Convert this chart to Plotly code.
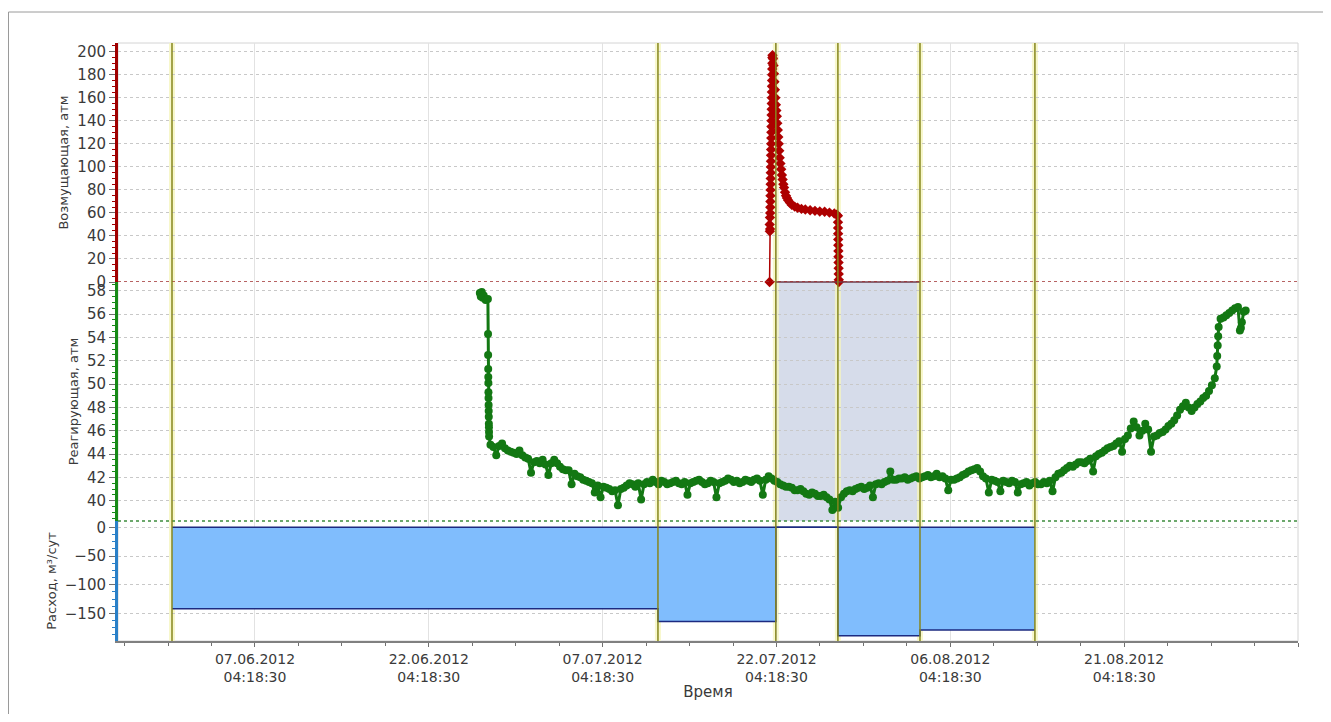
import pandas as pd
import plotly.graph_objects as go

# ---------------- data ----------------
# Возмущающая (disturbing well pressure), атм
red_time = [
    "2012-07-21 14:00", "2012-07-21 14:15", "2012-07-21 14:30", "2012-07-21 14:45",
    "2012-07-21 15:00", "2012-07-21 15:15",
    "2012-07-21 15:30", "2012-07-21 15:40", "2012-07-21 15:50", "2012-07-21 16:00",
    "2012-07-21 16:10", "2012-07-21 16:20", "2012-07-21 16:30", "2012-07-21 16:40",
    "2012-07-21 16:50", "2012-07-21 17:00", "2012-07-21 17:10", "2012-07-21 17:20",
    "2012-07-21 17:30", "2012-07-21 17:40", "2012-07-21 17:50", "2012-07-21 18:00",
    "2012-07-21 18:10", "2012-07-21 18:20", "2012-07-21 18:30", "2012-07-21 18:40",
    "2012-07-21 18:50", "2012-07-21 19:00", "2012-07-21 19:10", "2012-07-21 19:20",
    "2012-07-21 19:30", "2012-07-21 19:40", "2012-07-21 19:50", "2012-07-21 20:00",
    "2012-07-21 21:00", "2012-07-21 22:00", "2012-07-21 23:00", "2012-07-22 00:00",
    "2012-07-22 01:00", "2012-07-22 02:00", "2012-07-22 03:00", "2012-07-22 04:00",
    "2012-07-22 05:00", "2012-07-22 06:00", "2012-07-22 07:00", "2012-07-22 08:00",
    "2012-07-22 09:00", "2012-07-22 10:00", "2012-07-22 11:00", "2012-07-22 12:30",
    "2012-07-22 14:00", "2012-07-22 15:30", "2012-07-22 17:00", "2012-07-22 18:30",
    "2012-07-22 20:00", "2012-07-22 22:00", "2012-07-23 00:00", "2012-07-23 02:00",
    "2012-07-23 04:30", "2012-07-23 08:00", "2012-07-23 12:00", "2012-07-23 18:00",
    "2012-07-24 00:00", "2012-07-24 08:00", "2012-07-24 16:00", "2012-07-25 02:00",
    "2012-07-25 12:00", "2012-07-25 22:00", "2012-07-26 08:00", "2012-07-26 18:00",
    "2012-07-27 04:00", "2012-07-27 09:00", "2012-07-27 11:30",
    "2012-07-27 11:40", "2012-07-27 11:50", "2012-07-27 12:00", "2012-07-27 12:10",
    "2012-07-27 12:20", "2012-07-27 12:30", "2012-07-27 12:40", "2012-07-27 12:50",
    "2012-07-27 13:00", "2012-07-27 13:10", "2012-07-27 13:20", "2012-07-27 13:30",
]
red_val = [
    0, 50, 44, 56,
    46, 60,
    65, 70, 75, 80,
    85, 90, 95, 100,
    105, 110, 115, 120,
    125, 130, 135, 140,
    145, 150, 155, 160,
    165, 170, 175, 180,
    185, 190, 195, 197,
    194, 188, 181, 174,
    167, 160, 154, 149,
    144, 138, 132, 126,
    120, 114, 108, 103,
    98, 93, 89, 85,
    82, 78, 75, 73,
    71, 69, 67, 65.5,
    64.5, 63.5, 63, 62.3,
    61.8, 61.3, 61, 60.3,
    59.5, 58.5, 57.5,
    52, 47, 42, 37,
    32, 27, 22, 17,
    12, 7, 2, 0,
]

# Реагирующая (responding well pressure), атм
green_head_time = [
    "2012-06-26 14:00", "2012-06-26 16:00", "2012-06-26 18:00", "2012-06-26 20:00",
    "2012-06-26 22:00", "2012-06-27 02:00", "2012-06-27 06:40",
    "2012-06-27 07:00", "2012-06-27 07:10", "2012-06-27 07:20", "2012-06-27 07:30",
    "2012-06-27 07:40", "2012-06-27 07:50", "2012-06-27 08:00", "2012-06-27 08:10",
    "2012-06-27 08:20", "2012-06-27 08:30", "2012-06-27 08:40", "2012-06-27 08:50",
    "2012-06-27 09:00", "2012-06-27 09:10",
]
green_head_val = [
    57.8, 57.5, 57.9, 57.4,
    57.6, 57.2, 57.3,
    54.3, 52.5, 51.3, 50.6,
    50.1, 49.3, 48.8, 48.2,
    47.7, 47.2, 46.6, 46.3,
    45.9, 45.5,
]
# 12-hourly readings starting 27.06.2012 12:00
green_start = "2012-06-27 12:00"
green_val = [
    44.8, 43.9, 44.9, 44.3, 44.1, 44.3, 43.7, 42.4, 43.4, 43.5,
    42.2, 43.5, 42.9, 42.6, 41.4, 42.1, 41.8, 41.6, 40.7, 40.3,
    41.1, 40.8, 39.6, 41.1, 41.5, 41.2, 40.1, 41.6, 41.8, 41.4,
    41.6, 41.5, 41.7, 41.4, 40.5, 41.6, 41.8, 41.4, 41.7, 40.3,
    41.6, 41.9, 41.6, 41.5, 41.8, 41.6, 41.9, 40.5, 42.1, 41.7,
    41.4, 41.2, 41.1, 40.9, 40.8, 40.5, 40.6, 40.4, 40.3, 39.2,
    39.4, 40.6, 40.9, 41.0, 41.2, 41.1, 40.3, 41.5, 41.6, 42.5,
    41.8, 41.9, 41.8, 42.0, 41.9, 42.1, 42.0, 42.3, 42.1, 40.9,
    41.8, 42.0, 42.3, 42.6, 42.8, 42.1, 40.7, 41.7, 40.8, 41.6,
    41.7, 40.7, 41.5, 41.3, 41.6, 41.4, 41.5, 40.8, 42.3, 42.6,
    43.0, 43.1, 43.3, 43.4, 42.5, 44.0, 44.3, 44.6, 44.9, 44.2,
    45.6, 46.8, 45.6, 46.6, 44.2, 45.6, 45.9, 46.4, 46.9, 47.8,
    48.4, 47.7, 48.3, 48.8, 49.4, 50.5, 55.6, 55.9, 56.3, 56.6,
    56.2,
]
# readings 6 h after each of the 12-hourly readings above
green_mid_start = "2012-06-27 18:00"
green_mid_val = [
    44.6, 44.7, 44.5, 44.2, 44.0, 43.9, 43.6, 43.3, 43.2, 43.1,
    43.2, 43.2, 42.7, 42.6, 42.3, 42.0, 41.7, 41.5, 41.3, 41.2,
    41.0, 40.9, 41.0, 41.3, 41.4, 41.5, 41.4, 41.5, 41.6, 41.7,
    41.4, 41.6, 41.5, 41.6, 41.5, 41.7, 41.6, 41.5, 41.6, 41.5,
    41.7, 41.8, 41.7, 41.6, 41.7, 41.8, 41.7, 41.8, 41.9, 41.6,
    41.3, 41.2, 40.9, 41.0, 40.6, 40.7, 40.4, 40.5, 40.1, 39.9,
    40.3, 40.8, 40.8, 41.1, 41.0, 41.3, 41.4, 41.4, 41.7, 41.8,
    41.9, 42.0, 41.9, 42.1, 42.0, 42.2, 42.1, 42.0, 41.9, 41.8,
    41.9, 42.2, 42.5, 42.7, 42.5, 41.9, 41.8, 41.6, 41.7, 41.5,
    41.6, 41.4, 41.6, 41.5, 41.4, 41.6, 41.7, 42.0, 42.4, 42.8,
    42.9, 43.3, 43.2, 43.6, 43.8, 44.1, 44.5, 44.7, 45.1, 45.3,
    46.2, 46.3, 46.0, 46.1, 45.5, 45.8, 46.1, 46.6, 47.3, 48.1,
    48.0, 48.0, 48.5, 49.0, 49.9, 53.3, 55.7, 56.1, 56.5, 54.8,
]
green_extra_time = [
    "2012-08-29 04:00", "2012-08-29 05:00", "2012-08-29 07:00", "2012-08-29 08:00",
    "2012-08-31 04:00", "2012-08-31 08:00", "2012-08-31 16:00",
]
green_extra_val = [51.5, 52.4, 54.1, 54.9, 54.6, 55.3, 56.3]

# Расход (flow rate), м3/сут — step changes
flow_time = ["2012-05-31 00:30", "2012-07-11 22:50", "2012-07-22 03:00",
             "2012-07-27 11:30", "2012-08-03 13:30", "2012-08-13 11:30"]
flow_val = [-142, -164, 0, -189, -179, -179]

shade_start = "2012-07-22 03:00"
shade_end = "2012-08-03 13:30"

x_range = ["2012-05-26 08:40", "2012-09-05 04:18:30"]
tick0 = "2012-06-07 04:18:30"
DAY_MS = 86400000

# ---------------- build series ----------------
g_main = pd.DataFrame({
    "t": pd.date_range(green_start, periods=len(green_val), freq="12h"),
    "v": green_val,
})
g_mid = pd.DataFrame({
    "t": pd.date_range(green_mid_start, periods=len(green_mid_val), freq="12h"),
    "v": green_mid_val,
})
g_head = pd.DataFrame({"t": pd.to_datetime(green_head_time), "v": green_head_val})
g_extra = pd.DataFrame({"t": pd.to_datetime(green_extra_time), "v": green_extra_val})
green = pd.concat([g_head, g_main, g_mid, g_extra]).sort_values("t")

RED = "#ad0000"
GREEN = "#137813"
FONT = "DejaVu Sans"
TXT = "#3a3a3a"

fig = go.Figure()
fig.add_trace(go.Scatter(
    x=pd.to_datetime(flow_time), y=flow_val, mode="lines", yaxis="y3",
    line=dict(shape="hv", color="#1c2a80", width=1.5),
    fill="tozeroy", fillcolor="#80bdfd", hoverinfo="skip"))
fig.add_trace(go.Scatter(
    x=green["t"], y=green["v"], mode="lines+markers", yaxis="y2",
    line=dict(color=GREEN, width=3), marker=dict(size=8, color=GREEN)))
fig.add_trace(go.Scatter(
    x=pd.to_datetime(red_time), y=red_val, mode="lines+markers", yaxis="y",
    line=dict(color=RED, width=1.5),
    marker=dict(symbol="diamond", size=8, color=RED), cliponaxis=False))

# the page body has an 8 px margin: plot area 118..1298 x 43..641 in the window
L, R, T, B = 110, 25, 35, 73
W, H = 1315, 706
PW = W - L - R
PH = H - T - B

shapes = []
# outer frame
shapes.append(dict(type="rect", xref="paper", yref="paper",
                   x0=(8.5 - 118) / PW, x1=1.3, y0=-0.5, y1=1 + (43 - 12) / PH,
                   line=dict(color="#9a9a9a", width=1),
                   fillcolor="rgba(0,0,0,0)", layer="below"))
# plot border
shapes.append(dict(type="rect", xref="paper", yref="paper", x0=0, x1=1, y0=0, y1=1,
                   line=dict(color="#d4d4d4", width=1), layer="below"))
# shaded interval in middle panel
shapes.append(dict(type="rect", xref="x", yref="y2 domain", x0=shade_start, x1=shade_end,
                   y0=0, y1=1, fillcolor="#d6dcea", line=dict(width=0), layer="below"))
shapes.append(dict(type="line", xref="x", yref="y2 domain", x0=shade_start, x1=shade_end,
                   y0=1, y1=1, line=dict(color="#6e3a48", width=1.5)))
# panel separators
shapes.append(dict(type="line", xref="paper", yref="y", x0=0, x1=1, y0=0, y1=0,
                   line=dict(color="#a03030", width=1.5, dash="dot")))
shapes.append(dict(type="line", xref="paper", yref="y2 domain", x0=0, x1=1, y0=0, y1=0,
                   line=dict(color="#3c8c3c", width=1.5, dash="dot")))
# zero outline of flow
shapes.append(dict(type="line", xref="x", yref="y3", x0=flow_time[0], x1=flow_time[-1],
                   y0=0, y1=0, line=dict(color="#1c2a80", width=1.5)))
# event lines
for t in flow_time:
    shapes.append(dict(type="line", xref="x", yref="paper", x0=t, x1=t, y0=0, y1=1,
                       line=dict(color="rgba(245,245,190,0.8)", width=6), layer="below"))
    shapes.append(dict(type="line", xref="x", yref="paper", x0=t, x1=t, y0=0, y1=1,
                       line=dict(color="#86861e", width=1.5)))

tickfont = dict(family=FONT, size=15, color=TXT)
titlefont = dict(family=FONT, size=13, color=TXT)


def yax(domain, rng, t0, dt, color, title, minor_dt):
    return dict(
        domain=domain, range=rng, tickmode="linear", tick0=t0, dtick=dt,
        showgrid=True, gridcolor="#c8c8c8", griddash="dot", gridwidth=1,
        zeroline=False, showline=True, linecolor=color, linewidth=3,
        ticks="outside", ticklen=6, tickcolor="#707070", tickfont=tickfont,
        minor=dict(dtick=minor_dt, tick0=t0, ticks="outside", ticklen=3,
                   tickcolor=color, showgrid=False),
        title=dict(text=title, font=titlefont, standoff=6),
        anchor="x", fixedrange=True,
    )


fig.update_layout(
    width=W, height=H,
    margin=dict(l=L, r=R, t=T, b=B),
    paper_bgcolor="white", plot_bgcolor="white",
    showlegend=False, shapes=shapes,
    xaxis=dict(
        domain=[0, 1], anchor="y3", type="date", range=x_range,
        tickmode="linear", tick0=tick0, dtick=15 * DAY_MS,
        tickformat="%d.%m.%Y<br>%H:%M:%S",
        showgrid=True, gridcolor="#e2e2e2", gridwidth=1, zeroline=False,
        showline=True, linecolor="#808080", linewidth=2,
        ticks="outside", ticklen=4, tickcolor="#707070",
        tickfont=dict(family=FONT, size=14, color=TXT),
        minor=dict(dtick=3.75 * DAY_MS, tick0=tick0, ticks="outside", ticklen=3,
                   tickcolor="#707070", showgrid=False),
        title=dict(text="Время", font=dict(family=FONT, size=15, color=TXT), standoff=2),
    ),
    yaxis=yax([0.6003, 1], [0, 207.6], 0, 20, "#a00000", "Возмущающая, атм", 5),
    yaxis2=yax([0.2007, 0.6003], [38.26, 58.75], 40, 2, "#178a17", "Реагирующая, атм", 0.5),
    yaxis3=yax([0, 0.2007], [-198, 11], 0, 50, "#2a80c8", "Расход, м³/сут", 12.5),
)

fig.write_html("out.html")
